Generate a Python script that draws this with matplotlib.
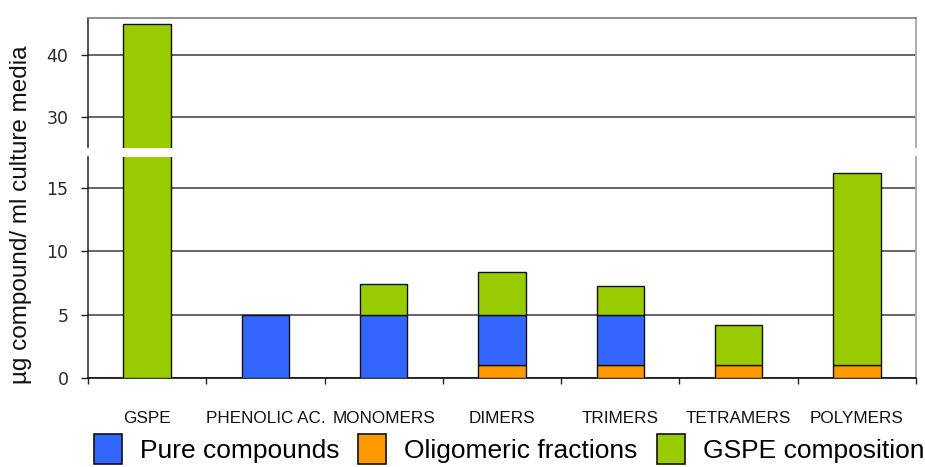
import numpy as np
import matplotlib
matplotlib.use("Agg")
import matplotlib.pyplot as plt
from matplotlib.patches import Patch

plt.rcParams['font.family'] = ['Liberation Sans', 'DejaVu Sans']

categories = ['GSPE', 'PHENOLIC AC.', 'MONOMERS', 'DIMERS', 'TRIMERS', 'TETRAMERS', 'POLYMERS']
pure_compounds = [0, 5, 5, 4, 4, 0, 0]
oligomeric_fractions = [0, 0, 0, 1, 1, 1, 1]
gspe_composition = [45, 0, 2.4, 3.4, 2.3, 3.2, 15.2]

upper_ticks = [30, 40]
lower_ticks = [0, 5, 10, 15]

c_pure = '#3366FF'
c_olig = '#FF9900'
c_gspe = '#99CC00'

W, H = 925, 467
fig = plt.figure(figsize=(W / 100, H / 100), dpi=100)
fig.patch.set_facecolor('white')

left, right = 88 / W, 916 / W
ax_up = fig.add_axes([left, 1 - 147.5 / H, right - left, (147.5 - 18) / H])
ax_lo = fig.add_axes([left, 1 - 378 / H, right - left, (378 - 157) / H])

x = np.arange(len(categories))
olig = np.array(oligomeric_fractions, float)
pure = np.array(pure_compounds, float)
gspe = np.array(gspe_composition, float)

grid_col = '#3c3c3c'
for ax in (ax_up, ax_lo):
    ax.set_axisbelow(True)
    for vals, bottom, col in ((olig, 0, c_olig), (pure, olig, c_pure), (gspe, olig + pure, c_gspe)):
        bars = ax.bar(x, vals, bottom=bottom, width=0.4, color=col,
                      edgecolor='#111111', linewidth=1.0, zorder=3)
        for p, v in zip(bars.patches, vals):
            if v == 0:
                p.set_visible(False)
    ax.set_xlim(-0.5, len(categories) - 0.5)
    ax.yaxis.grid(True, color=grid_col, linewidth=1.1)
    ax.xaxis.grid(False)
    ax.spines['left'].set_color('#222222')
    ax.spines['left'].set_linewidth(1.1)
    ax.spines['right'].set_color('#a8a8a8')
    ax.spines['right'].set_linewidth(1.3)
    ax.tick_params(axis='y', direction='out', length=5, width=1.0, color='#222222',
                   pad=9, labelsize=12.5, labelcolor='#2a2a2a')

# upper panel (broken axis, high values)
ax_up.set_ylim(25.08, 45.92)
ax_up.set_yticks(upper_ticks)
ax_up.spines['bottom'].set_visible(False)
ax_up.spines['top'].set_color('#7a7a7a')
ax_up.spines['top'].set_linewidth(1.2)
ax_up.tick_params(axis='x', which='both', bottom=False, labelbottom=False)

# lower panel
ax_lo.set_ylim(0, 17.45)
ax_lo.set_yticks(lower_ticks)
ax_lo.spines['top'].set_visible(False)
ax_lo.spines['bottom'].set_color('#111111')
ax_lo.spines['bottom'].set_linewidth(1.2)
ax_lo.set_xticks(np.arange(len(categories) + 1) - 0.5)
ax_lo.set_xticklabels([])
ax_lo.set_xticks(x, minor=True)
ax_lo.set_xticklabels(categories, minor=True, fontsize=12.3, color='#111111')
ax_lo.tick_params(axis='x', which='major', direction='out', length=4, width=1.0, color='#222222')
ax_lo.tick_params(axis='x', which='minor', length=0, pad=24)

for ax in (ax_up, ax_lo):
    for lab in ax.get_yticklabels():
        lab.set_family('DejaVu Sans')
        lab.set_fontstretch('expanded')

fig.text(21 / W, 1 - 215 / H, 'µg compound/ ml culture media', rotation=90,
         ha='center', va='center', fontsize=17.5, color='#111111')

handles = [Patch(facecolor=c_pure, edgecolor='#111111', linewidth=1.2, label='Pure compounds'),
           Patch(facecolor=c_olig, edgecolor='#111111', linewidth=1.2, label='Oligomeric fractions'),
           Patch(facecolor=c_gspe, edgecolor='#111111', linewidth=1.2, label='GSPE composition')]
fig.legend(handles=handles, loc='center left', bbox_to_anchor=(94 / W, 1 - 449 / H),
           ncol=3, frameon=False, fontsize=19, handlelength=1.06, handleheight=1.43,
           handletextpad=0.68, columnspacing=0.72, borderpad=0, borderaxespad=0)

fig.savefig('out.png', dpi=100, facecolor='white')
